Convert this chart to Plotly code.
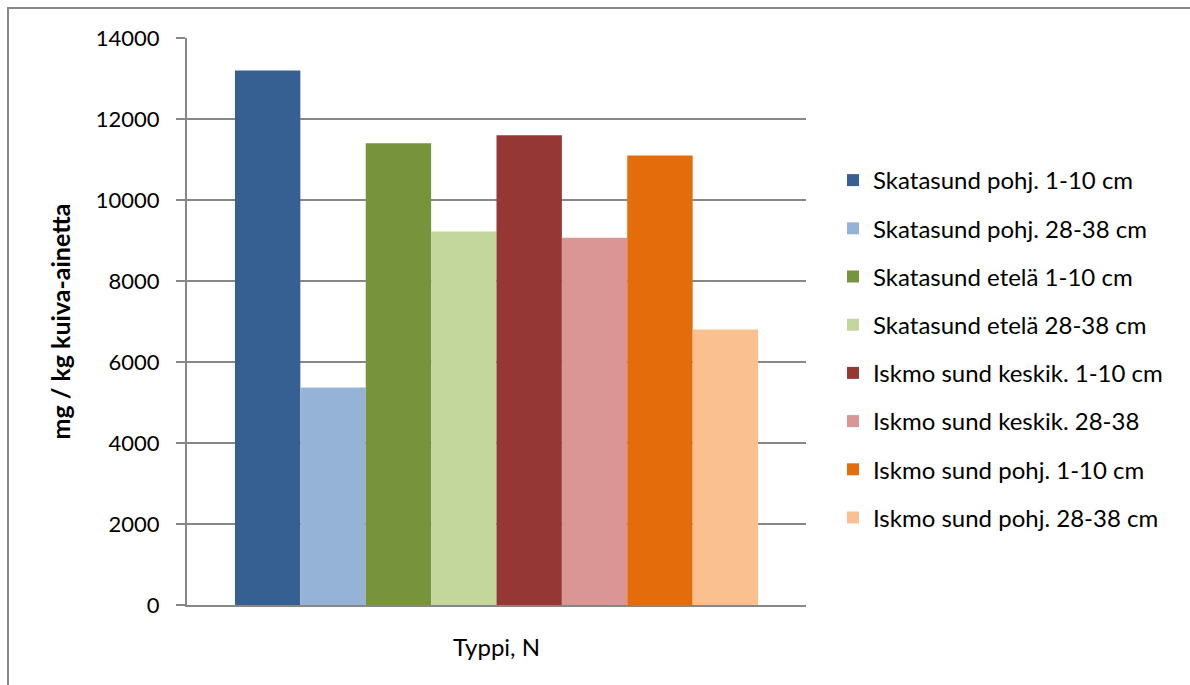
import plotly.graph_objects as go

# Category and series
category = ["Typpi, N"]
series_names = [
    "Skatasund pohj. 1-10 cm",
    "Skatasund pohj. 28-38 cm",
    "Skatasund etelä 1-10 cm",
    "Skatasund etelä 28-38 cm",
    "Iskmo sund keskik. 1-10 cm",
    "Iskmo sund keskik. 28-38",
    "Iskmo sund pohj. 1-10 cm",
    "Iskmo sund pohj. 28-38 cm",
]
values = [13200, 5370, 11400, 9220, 11600, 9070, 11100, 6800]
colors = [
    "#376092", "#95B3D7", "#77933C", "#C3D69B",
    "#953735", "#D99694", "#E46C0A", "#FAC090",
]
y_ticks = [0, 2000, 4000, 6000, 8000, 10000, 12000, 14000]

FONT = "Lato"
GRID = "#878787"

fig = go.Figure()
for name, v, c in zip(series_names, values, colors):
    fig.add_trace(go.Bar(
        x=category, y=[v], name=name, legendgroup=name,
        marker=dict(color=c, line=dict(width=0)),
    ))

W, H = 1190, 685
L, R, T, B = 187, 384, 38, 80
pw, ph = W - L - R, H - T - B

def px_x(p):
    return (p - L) / pw

def px_y(p):
    return (H - B - p) / ph

fig.update_layout(
    width=W, height=H,
    margin=dict(l=L, r=R, t=T, b=B, autoexpand=False),
    barmode="group", bargap=0.155, bargroupgap=0,
    plot_bgcolor="white", paper_bgcolor="white",
    font=dict(family=FONT, size=22, color="#000000"),
    showlegend=True,
    legend=dict(
        x=px_x(833), y=px_y(158), xanchor="left", yanchor="top",
        tracegroupgap=14, font=dict(family=FONT, size=24, color="#000000"),
        bgcolor="rgba(0,0,0,0)",
    ),
    xaxis=dict(
        showgrid=False, showline=True, linecolor=GRID, linewidth=2,
        ticks="", ticklabelstandoff=20, tickfont=dict(size=24),
        zeroline=False,
    ),
    yaxis=dict(
        range=[0, 14000], tickvals=y_ticks, ticktext=[str(t) for t in y_ticks],
        showgrid=True, gridcolor=GRID, gridwidth=2,
        showline=True, linecolor=GRID, linewidth=2,
        ticks="outside", ticklen=9, tickcolor=GRID, tickwidth=2,
        ticklabelstandoff=12, tickfont=dict(size=22),
        zeroline=False,
        title=dict(text="<b>mg / kg kuiva-ainetta</b>", standoff=18,
                   font=dict(family=FONT, size=25)),
    ),
    shapes=[dict(
        type="rect", xref="paper", yref="paper",
        x0=px_x(8), x1=px_x(1300), y0=px_y(8), y1=px_y(800),
        line=dict(color="#888888", width=2), fillcolor="rgba(0,0,0,0)",
        layer="below",
    )],
)

fig.write_html("out.html")
